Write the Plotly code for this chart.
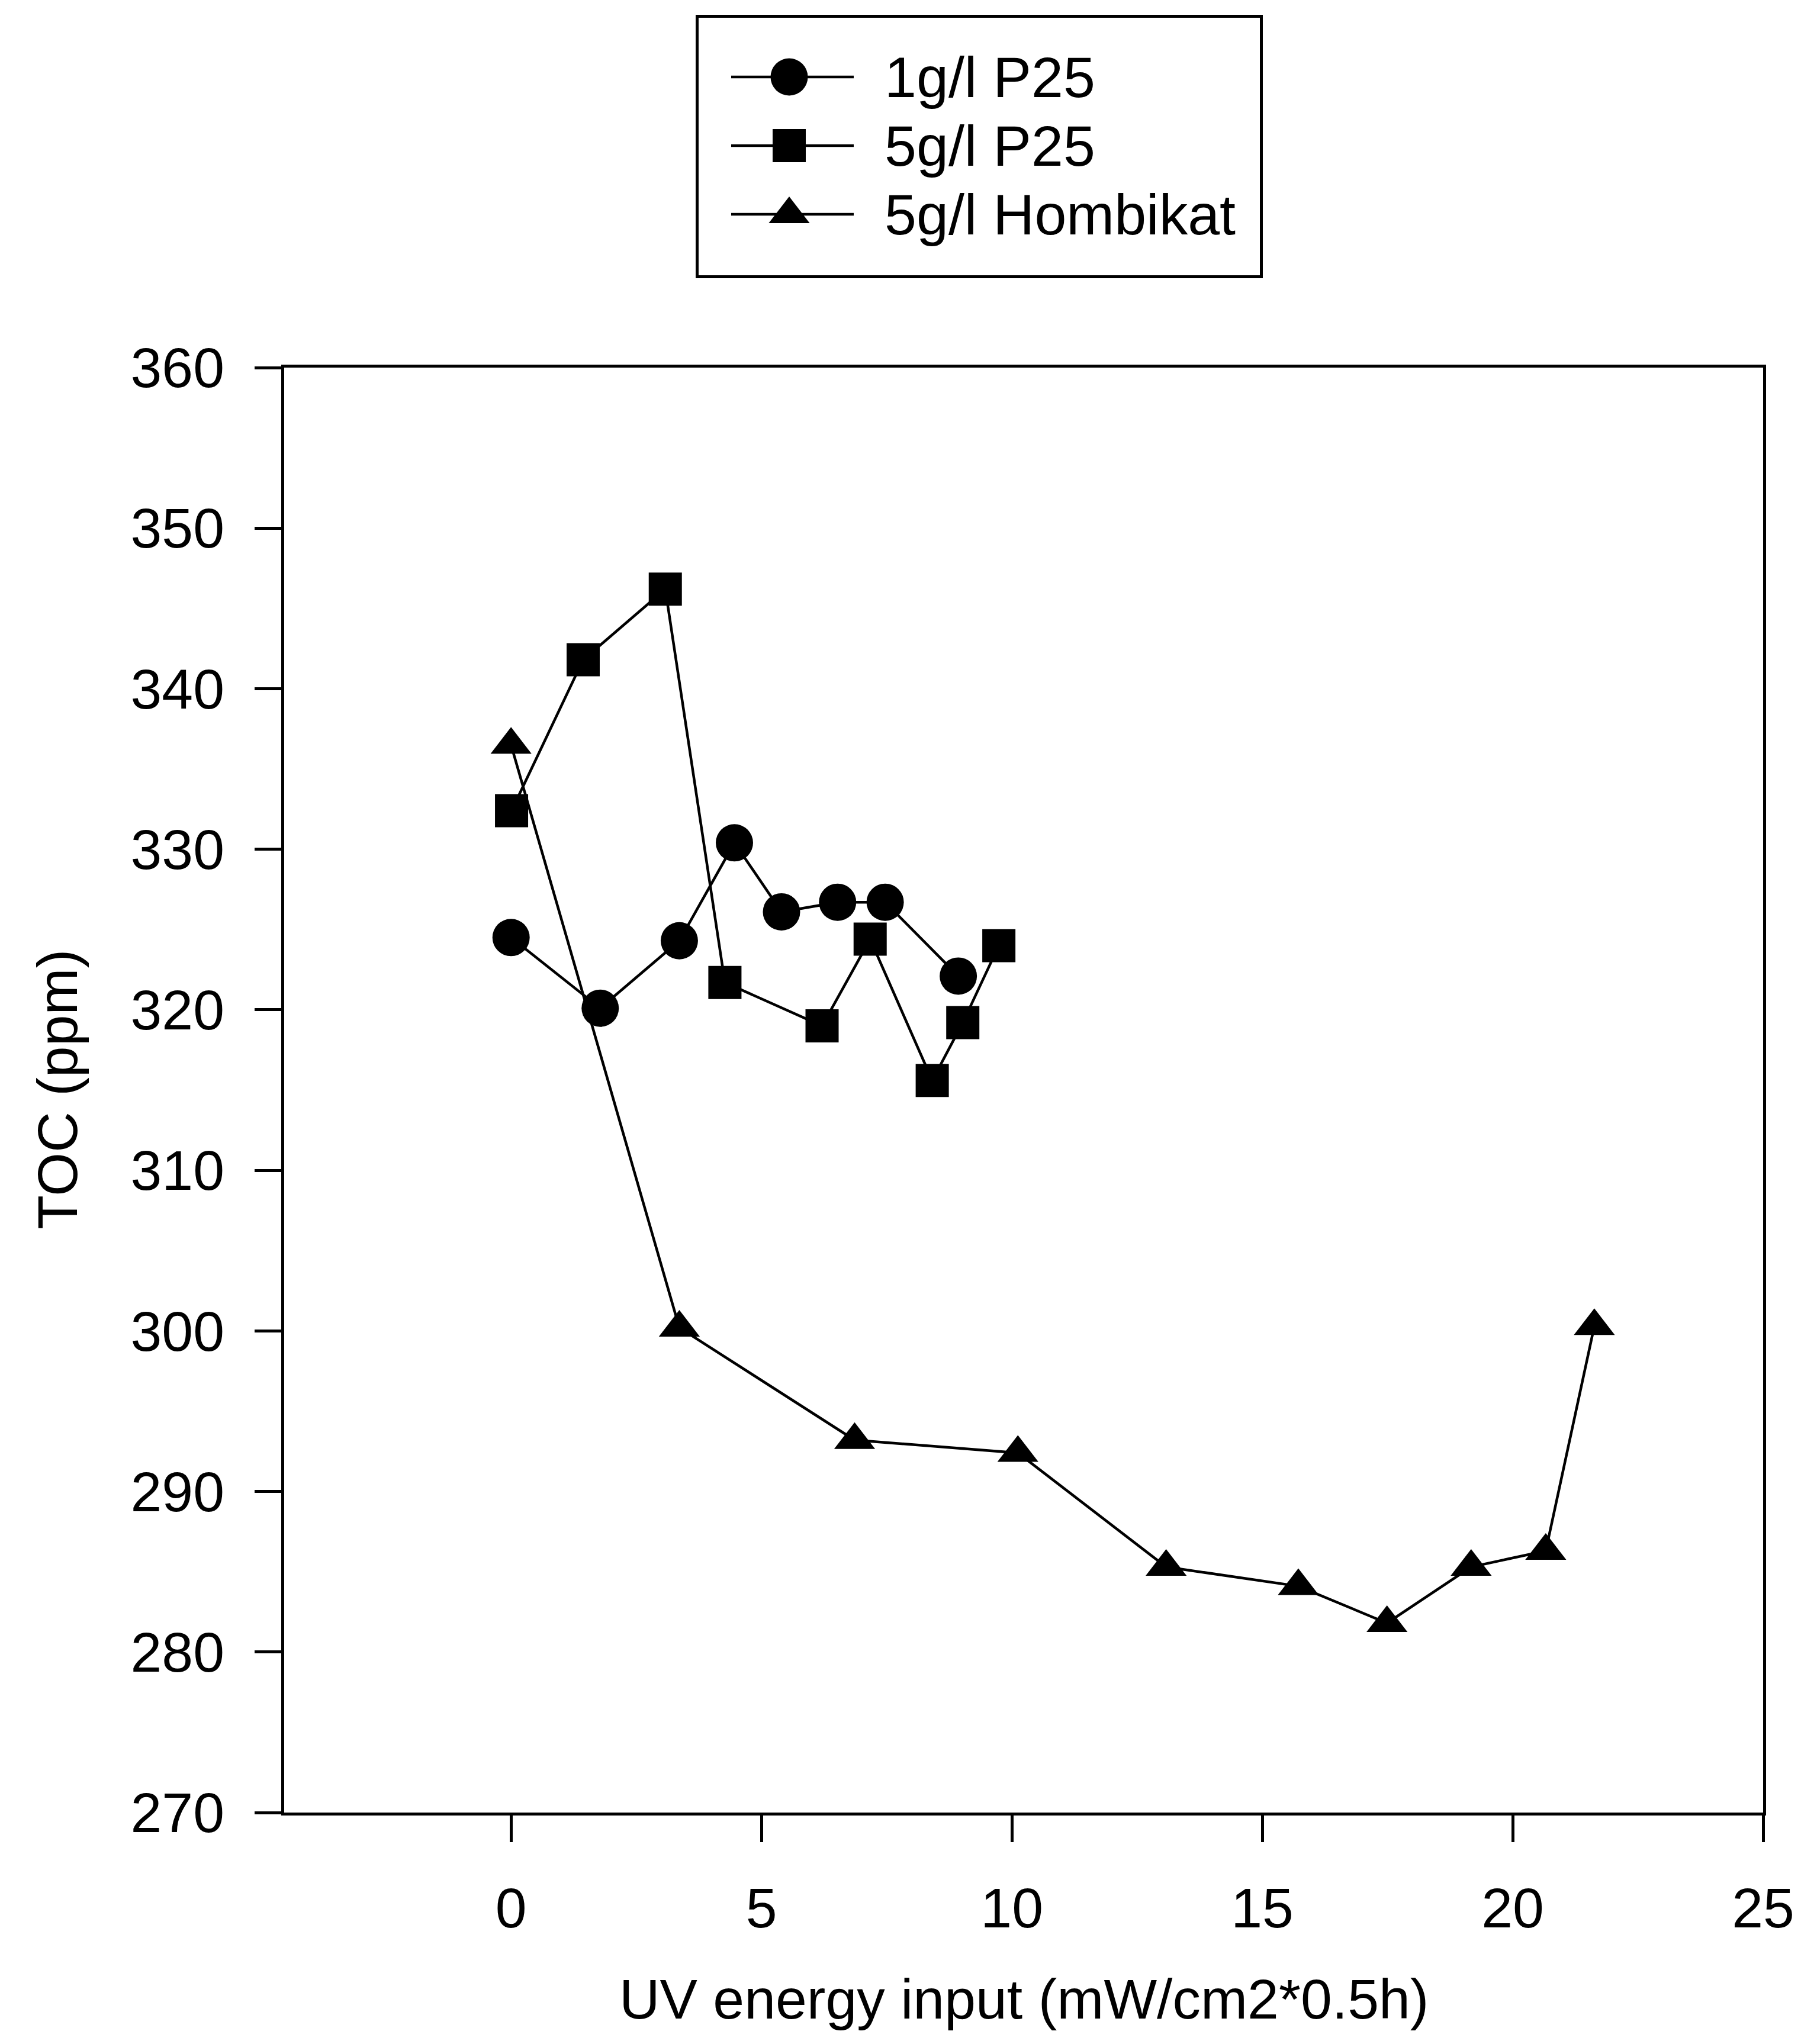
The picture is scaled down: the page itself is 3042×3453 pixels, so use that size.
import plotly.graph_objects as go

FONT = "Liberation Sans, Arial, Helvetica, sans-serif"

# ---------------- data ----------------
series_names = ["1g/l P25", "5g/l P25", "5g/l Hombikat"]

p25_1g_x = [0.0, 1.78, 3.36, 4.46, 5.40, 6.52, 7.47, 8.93]
p25_1g_y = [324.5, 320.1, 324.3, 330.4, 326.1, 326.7, 326.7, 322.1]

p25_5g_x = [0.01, 1.44, 3.08, 4.27, 6.21, 7.17, 8.41, 9.02, 9.74]
p25_5g_y = [332.4, 341.8, 346.2, 321.7, 319.0, 324.4, 315.6, 319.2, 324.0]

hombikat_5g_x = [0.0, 3.36, 6.86, 10.12, 13.08, 15.72, 17.49, 19.17, 20.66, 21.63]
hombikat_5g_y = [336.5, 300.2, 293.2, 292.4, 285.3, 284.1, 281.8, 285.3, 286.3, 300.3]

x_ticks = [0, 5, 10, 15, 20, 25]
y_ticks = [270, 280, 290, 300, 310, 320, 330, 340, 350, 360]

x_title = "UV energy input (mW/cm2*0.5h)"
y_title = "TOC (ppm)"

# ---------------- styling ----------------
W, H = 3042, 3453
symbols = ["circle", "square", "triangle-up"]
msizes = [63, 56, 60]
LW = 4.5
FS = 95

series = [
    (p25_1g_x, p25_1g_y),
    (p25_5g_x, p25_5g_y),
    (hombikat_5g_x, hombikat_5g_y),
]

fig = go.Figure()
for (xs, ys), name, sym, ms in zip(series, series_names, symbols, msizes):
    fig.add_trace(go.Scatter(
        x=xs, y=ys, name=name, mode="lines+markers",
        line=dict(color="black", width=LW),
        marker=dict(symbol=sym, size=ms, color="black", opacity=1, line=dict(width=0)),
        showlegend=False, xaxis="x", yaxis="y",
    ))

# ---------------- custom legend (keys on an auxiliary box axis) ----------------
BOX_L, BOX_R, BOX_T, BOX_B = 1180, 2128, 30, 465
box_w, box_h = BOX_R - BOX_L, BOX_B - BOX_T
key_x0, key_xm, key_x1, text_x = 55, 153, 262, 312
row0, row_step = 100, 116

for i, (name, sym, ms) in enumerate(zip(series_names, symbols, msizes)):
    ry = row0 + i * row_step
    fig.add_trace(go.Scatter(
        x=[key_x0, key_x1], y=[ry, ry], mode="lines",
        line=dict(color="black", width=LW),
        showlegend=False, hoverinfo="skip", xaxis="x2", yaxis="y2",
    ))
    fig.add_trace(go.Scatter(
        x=[key_xm], y=[ry], mode="markers",
        marker=dict(symbol=sym, size=ms, color="black", opacity=1, line=dict(width=0)),
        showlegend=False, hoverinfo="skip", xaxis="x2", yaxis="y2",
    ))
    fig.add_annotation(
        x=text_x, y=ry, xref="x2", yref="y2", text=name, showarrow=False,
        xanchor="left", yanchor="middle",
        font=dict(family=FONT, size=97, color="black"),
    )

# axis titles placed as annotations
fig.add_annotation(
    x=0.5 * (480 + 2978) / W, y=(H - 3377) / H, xref="paper", yref="paper",
    text=x_title, showarrow=False, xanchor="center", yanchor="middle",
    font=dict(family=FONT, size=FS, color="black"),
)
fig.add_annotation(
    x=97 / W, y=(H - 1841) / H, xref="paper", yref="paper",
    text=y_title, showarrow=False, xanchor="center", yanchor="middle",
    textangle=-90, font=dict(family=FONT, size=FS, color="black"),
)

axis_common = dict(
    showline=True, linewidth=5, linecolor="black", mirror=True,
    ticks="outside", ticklen=45, tickwidth=4.5, tickcolor="black",
    showgrid=False, zeroline=False, automargin=False,
    tickfont=dict(family=FONT, size=FS, color="black"),
)

fig.update_layout(
    width=W, height=H, autosize=False,
    margin=dict(l=0, r=0, t=0, b=0),
    paper_bgcolor="white", plot_bgcolor="white",
    font=dict(family=FONT, size=FS, color="black"),
    showlegend=False,
    xaxis=dict(
        domain=[480 / W, 2978 / W], anchor="y",
        range=[-4.53, 25], tickmode="array", tickvals=x_ticks,
        ticktext=[str(t) for t in x_ticks], ticklabelstandoff=30,
        **axis_common,
    ),
    yaxis=dict(
        domain=[(H - 3062) / H, (H - 621) / H], anchor="x",
        range=[270, 360], tickmode="array", tickvals=y_ticks,
        ticktext=[str(t) for t in y_ticks], ticklabelstandoff=32,
        **axis_common,
    ),
    xaxis2=dict(
        domain=[BOX_L / W, BOX_R / W], anchor="y2", range=[0, box_w],
        showline=True, linewidth=5, linecolor="black", mirror=True,
        showticklabels=False, ticks="", showgrid=False, zeroline=False,
        fixedrange=True,
    ),
    yaxis2=dict(
        domain=[(H - BOX_B) / H, (H - BOX_T) / H], anchor="x2", range=[box_h, 0],
        showline=True, linewidth=5, linecolor="black", mirror=True,
        showticklabels=False, ticks="", showgrid=False, zeroline=False,
        fixedrange=True,
    ),
)

fig.write_html("out.html")
